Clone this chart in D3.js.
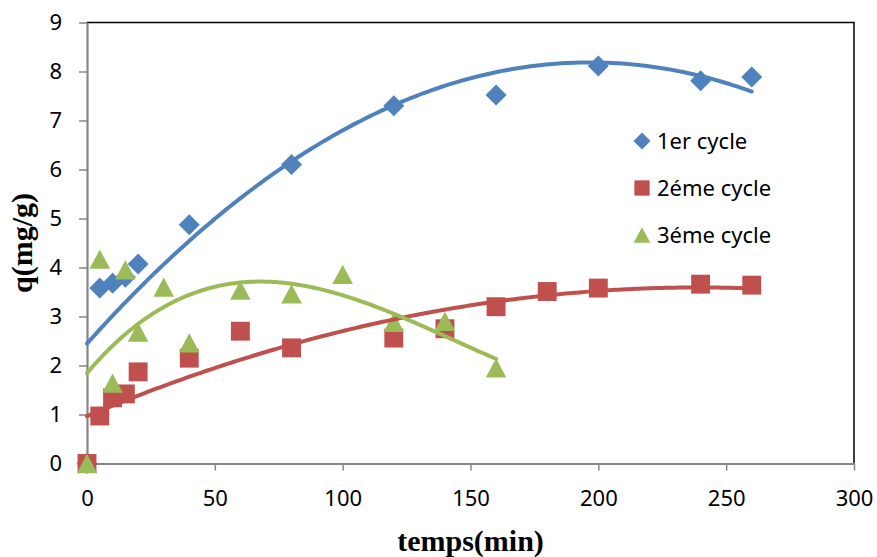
<!DOCTYPE html>
<html>
<head>
<meta charset="utf-8">
<script src="https://cdn.jsdelivr.net/npm/d3@7"></script>
<style>
  html, body { margin: 0; padding: 0; background: #fff; }
  svg { display: block; }
</style>
</head>
<body>
<svg id="chart" width="877" height="557"></svg>
<script>
// Adsorbed quantity q (mg/g) versus contact time for three regeneration cycles
const xTicks = [0, 50, 100, 150, 200, 250, 300];
const yTicks = [0, 1, 2, 3, 4, 5, 6, 7, 8, 9];

const cycle1Time = [0, 5, 10, 15, 20, 40, 80, 120, 160, 200, 240, 260];
const cycle1Q    = [0, 3.58, 3.68, 3.80, 4.07, 4.87, 6.10, 7.30, 7.52, 8.11, 7.81, 7.89];

const cycle2Time = [0, 5, 10, 15, 20, 40, 60, 80, 120, 140, 160, 180, 200, 240, 260];
const cycle2Q    = [0, 0.97, 1.34, 1.42, 1.87, 2.15, 2.70, 2.36, 2.56, 2.75, 3.20, 3.51, 3.58, 3.66, 3.64];

const cycle3Time = [0, 5, 10, 15, 20, 30, 40, 60, 80, 100, 120, 140, 160];
const cycle3Q    = [0, 4.17, 1.64, 3.95, 2.68, 3.60, 2.46, 3.54, 3.46, 3.86, 2.88, 2.90, 1.95];

const seriesNames = ["1er cycle", "2éme cycle", "3éme cycle"];
const seriesColors = ["#4F81BD", "#C0504D", "#9BBB59"];
const seriesShapes = ["diamond", "square", "triangle"];
const trendOrders = [2, 2, 3];

const series = [
  { name: seriesNames[0], t: cycle1Time, q: cycle1Q, color: seriesColors[0], shape: seriesShapes[0], order: trendOrders[0] },
  { name: seriesNames[1], t: cycle2Time, q: cycle2Q, color: seriesColors[1], shape: seriesShapes[1], order: trendOrders[1] },
  { name: seriesNames[2], t: cycle3Time, q: cycle3Q, color: seriesColors[2], shape: seriesShapes[2], order: trendOrders[2] }
];

// Polynomial least-squares trend line (normal equations, Gaussian elimination)
function polyFit(xs, ys, order) {
  const m = order + 1;
  const A = Array.from({ length: m }, () => new Array(m + 1).fill(0));
  xs.forEach((xv, i) => {
    for (let r = 0; r < m; r++) {
      for (let c = 0; c < m; c++) A[r][c] += Math.pow(xv, r + c);
      A[r][m] += Math.pow(xv, r) * ys[i];
    }
  });
  for (let p = 0; p < m; p++) {
    let best = p;
    for (let r = p + 1; r < m; r++) if (Math.abs(A[r][p]) > Math.abs(A[best][p])) best = r;
    [A[p], A[best]] = [A[best], A[p]];
    for (let r = 0; r < m; r++) {
      if (r === p) continue;
      const f = A[r][p] / A[p][p];
      for (let c = p; c <= m; c++) A[r][c] -= f * A[p][c];
    }
  }
  const coef = A.map((row, i) => row[m] / row[i]);
  return xv => coef.reduce((s, a, i) => s + a * Math.pow(xv, i), 0);
}

const svg = d3.select("#chart");
const x = d3.scaleLinear().domain([0, 300]).range([87, 854]);
const y = d3.scaleLinear().domain([0, 9]).range([463.5, 22.5]);

const tickFont = "'Noto Sans', 'Open Sans', sans-serif";

// Plot area frame (top and right edges)
svg.append("path")
  .attr("d", `M${x(0)},${y(9)} H${x(300)} V${y(0)}`)
  .attr("fill", "none").attr("stroke", "#000").attr("stroke-width", 1.5);

// Y axis
const yAxis = svg.append("g").attr("transform", `translate(${x(0)},0)`)
  .call(d3.axisLeft(y).tickValues(yTicks).tickSize(8).tickPadding(17).tickSizeOuter(0));
// X axis
const xAxis = svg.append("g").attr("transform", `translate(0,${y(0)})`)
  .call(d3.axisBottom(x).tickValues(xTicks).tickSize(7).tickPadding(20).tickSizeOuter(0));

[yAxis, xAxis].forEach(g => {
  g.select(".domain").attr("stroke", "#868686").attr("stroke-width", 2.2);
  g.selectAll(".tick line").attr("stroke", "#868686").attr("stroke-width", 1.5);
  g.selectAll(".tick text").attr("fill", "#000")
    .style("font-family", tickFont).style("font-size", "22px");
});

// Marker path generator
function markerPath(shape, s) {
  if (shape === "diamond") return `M0,${-s}L${s},0L0,${s}L${-s},0Z`;
  if (shape === "square") { const h = s * 0.9; return `M${-h},${-h}H${h}V${h}H${-h}Z`; }
  const w = s * 0.98, ht = s * 0.92;
  return `M0,${-ht}L${w},${ht}L${-w},${ht}Z`;
}

// Markers
series.forEach(sr => {
  svg.append("g").selectAll("path")
    .data(sr.t.map((t, i) => ({ t, q: sr.q[i] })))
    .join("path")
    .attr("transform", d => `translate(${x(d.t)},${y(d.q)})`)
    .attr("d", markerPath(sr.shape, 10.5))
    .attr("fill", sr.color);
});

// Trend lines
series.forEach(sr => {
  const f = polyFit(sr.t, sr.q, sr.order);
  const tMax = d3.max(sr.t);
  const pts = d3.range(0, tMax + 0.001, tMax / 200).map(t => [t, f(t)]);
  svg.append("path")
    .datum(pts)
    .attr("d", d3.line().x(d => x(d[0])).y(d => y(d[1])))
    .attr("fill", "none")
    .attr("stroke", sr.color)
    .attr("stroke-width", 4)
    .attr("stroke-linecap", "round");
});

// Legend
const legend = svg.append("g");
series.forEach((sr, i) => {
  const cy = 141 + i * 47;
  legend.append("path")
    .attr("transform", `translate(642,${cy})`)
    .attr("d", markerPath(sr.shape, 8.5))
    .attr("fill", sr.color);
  legend.append("text")
    .attr("x", 657).attr("y", cy + 7.5)
    .style("font-family", tickFont).style("font-size", "22px")
    .text(sr.name);
});

// Axis titles
svg.append("text")
  .attr("x", (x(0) + x(300)) / 2).attr("y", 551)
  .attr("text-anchor", "middle")
  .style("font-family", "'Liberation Serif', 'Times New Roman', serif")
  .style("font-weight", "bold").style("font-size", "30px")
  .text("temps(min)");

svg.append("text")
  .attr("transform", `translate(32,${(y(0) + y(9)) / 2}) rotate(-90)`)
  .attr("text-anchor", "middle")
  .style("font-family", "'Liberation Serif', 'Times New Roman', serif")
  .style("font-weight", "bold").style("font-size", "30px")
  .text("q(mg/g)");
</script>
</body>
</html>
